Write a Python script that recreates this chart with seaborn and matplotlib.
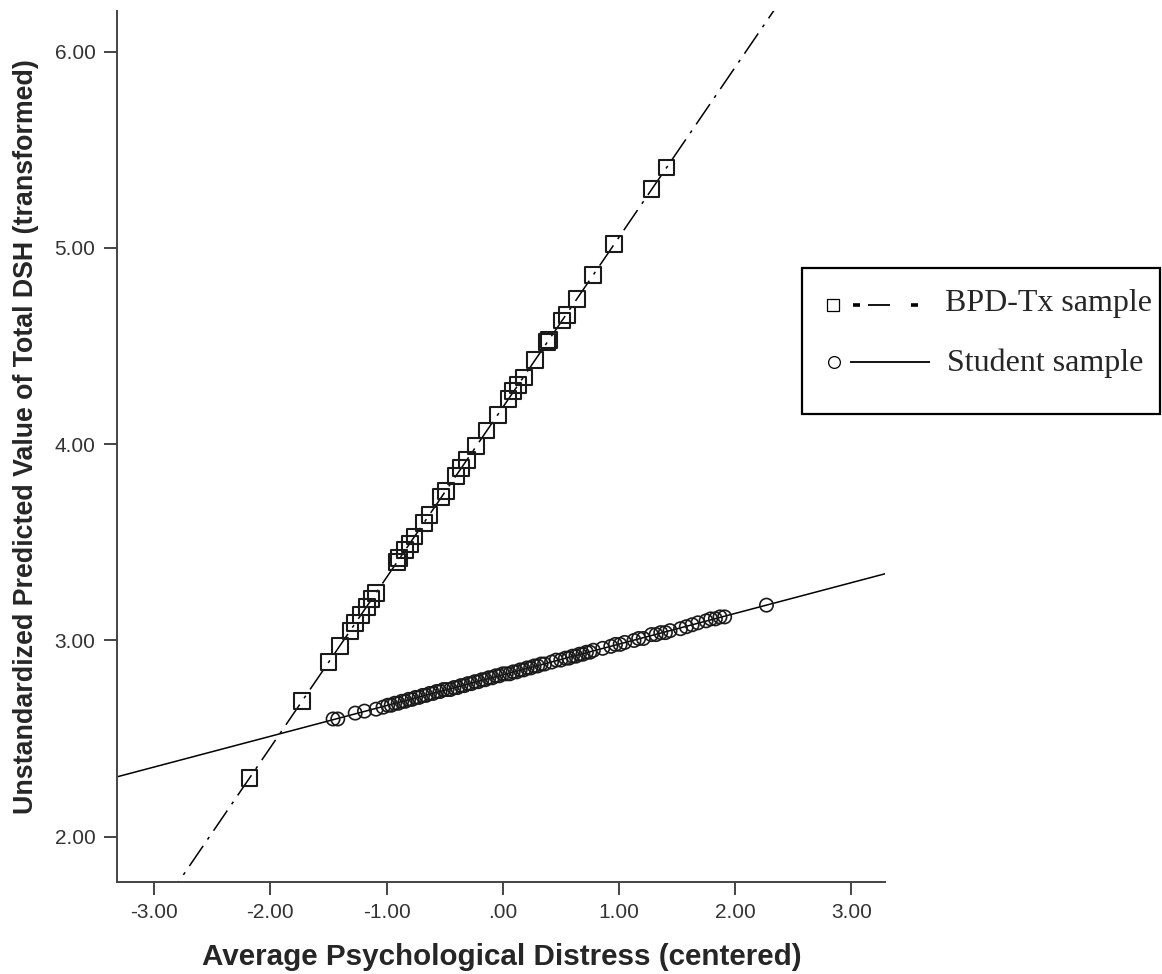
import matplotlib
matplotlib.use("Agg")
import matplotlib.pyplot as plt
from matplotlib.lines import Line2D
from matplotlib.patches import Rectangle
import numpy as np
import pandas as pd
import seaborn as sns

# valores predichos - muestra BPD-Tx
bpd_x = [-2.18, -1.73, -1.50, -1.40, -1.31, -1.27, -1.22, -1.17, -1.13, -1.09,
         -0.91, -0.89, -0.84, -0.80, -0.76, -0.68, -0.63, -0.53, -0.49, -0.40,
         -0.36, -0.31, -0.23, -0.14, -0.04, 0.05, 0.09, 0.13, 0.18, 0.28,
         0.38, 0.40, 0.51, 0.55, 0.64, 0.78, 0.96, 1.28, 1.41]
bpd_y = [2.30, 2.69, 2.89, 2.97, 3.05, 3.09, 3.13, 3.17, 3.21, 3.24,
         3.40, 3.42, 3.46, 3.49, 3.53, 3.60, 3.64, 3.73, 3.76, 3.84,
         3.88, 3.92, 3.99, 4.07, 4.15, 4.23, 4.27, 4.30, 4.34, 4.43,
         4.52, 4.53, 4.63, 4.66, 4.74, 4.86, 5.02, 5.30, 5.41]

# muestra de estudiantes
stu_x = [-1.46, -1.42, -1.27, -1.19, -1.09, -1.03, -0.99, -0.96, -0.93, -0.90,
         -0.87, -0.84, -0.81, -0.78, -0.75, -0.72, -0.69, -0.66, -0.63, -0.60,
         -0.57, -0.54, -0.51, -0.48, -0.45, -0.42, -0.39, -0.36, -0.33, -0.30,
         -0.27, -0.24, -0.21, -0.18, -0.15, -0.12, -0.09, -0.06, -0.03, 0.00,
         0.03, 0.06, 0.09, 0.12, 0.15, 0.18, 0.21, 0.24, 0.27, 0.30,
         0.33, 0.36, 0.42, 0.46, 0.50, 0.54, 0.57, 0.60, 0.63, 0.66,
         0.69, 0.72, 0.75, 0.78, 0.86, 0.93, 0.97, 1.01, 1.05, 1.13,
         1.17, 1.21, 1.28, 1.32, 1.36, 1.40, 1.44, 1.53, 1.58, 1.63,
         1.68, 1.75, 1.79, 1.83, 1.87, 1.91, 2.27]
stu_y = [2.60, 2.60, 2.63, 2.64, 2.65, 2.66, 2.67, 2.67, 2.68, 2.68,
         2.69, 2.69, 2.70, 2.70, 2.71, 2.71, 2.72, 2.72, 2.73, 2.73,
         2.74, 2.74, 2.75, 2.75, 2.75, 2.76, 2.76, 2.77, 2.77, 2.78,
         2.78, 2.79, 2.79, 2.80, 2.80, 2.81, 2.81, 2.82, 2.82, 2.83,
         2.83, 2.83, 2.84, 2.84, 2.85, 2.85, 2.86, 2.86, 2.87, 2.87,
         2.88, 2.88, 2.89, 2.90, 2.90, 2.91, 2.91, 2.92, 2.92, 2.93,
         2.93, 2.94, 2.94, 2.95, 2.96, 2.97, 2.98, 2.98, 2.99, 3.00,
         3.01, 3.01, 3.03, 3.03, 3.04, 3.04, 3.05, 3.06, 3.07, 3.08,
         3.09, 3.10, 3.11, 3.11, 3.12, 3.12, 3.18]

x_ticks = [-3, -2, -1, 0, 1, 2, 3]
x_labels = ["-3.00", "-2.00", "-1.00", ".00", "1.00", "2.00", "3.00"]
y_ticks = [2, 3, 4, 5, 6]
y_labels = ["2.00", "3.00", "4.00", "5.00", "6.00"]

sns.set_style("white")
plt.rcParams['font.family'] = ['Liberation Sans', 'DejaVu Sans']

W, H = 1162, 974
fig = plt.figure(figsize=(W / 100, H / 100), dpi=100)
ax = fig.add_axes([117 / W, 1 - 881.7 / H, (885 - 117) / W, (881.7 - 11) / H])
ax.set_xlim(-3.32, 3.29)
ax.set_ylim(1.771, 6.207)

df_bpd = pd.DataFrame({"x": bpd_x, "y": bpd_y})
df_stu = pd.DataFrame({"x": stu_x, "y": stu_y})

tinta = "#1a1a1a"
sns.regplot(data=df_stu, x="x", y="y", ax=ax, ci=None, truncate=False,
            marker="o",
            scatter_kws=dict(s=92, facecolors="none", edgecolors=tinta,
                             linewidths=1.2, alpha=1, zorder=3),
            line_kws=dict(color="black", lw=1.1, zorder=2))
sns.regplot(data=df_bpd, x="x", y="y", ax=ax, ci=None, truncate=False,
            marker="s",
            scatter_kws=dict(s=130, facecolors="none", edgecolors=tinta,
                             linewidths=1.5, alpha=1, zorder=3),
            line_kws=dict(color="black", lw=1.1, dashes=(16, 5, 2, 5), zorder=2))
ax.set_xlim(-3.32, 3.29)
ax.set_ylim(1.771, 6.207)

ax.set_xticks(x_ticks)
ax.set_xticklabels(x_labels)
ax.set_yticks(y_ticks)
ax.set_yticklabels(y_labels)
ax.tick_params(axis="both", direction="out", length=9.5, width=1.4,
               color="#444444", labelsize=15, labelcolor="#333333", pad=6,
               bottom=True, left=True)

for lado in ["top", "right"]:
    ax.spines[lado].set_visible(False)
for lado in ["left", "bottom"]:
    ax.spines[lado].set_color("#444444")
    ax.spines[lado].set_linewidth(1.4)

ax.set_xlabel("")
ax.set_ylabel("")
fig.text(502 / W, 1 - 957 / H, "Average Psychological Distress (centered)",
         fontsize=21.3, fontweight="bold", ha="center", va="center")
fig.text(26 / W, 1 - 437 / H,
         "Unstandardized Predicted Value of Total DSH (transformed)",
         fontsize=19.3, fontweight="bold", ha="center", va="center",
         rotation=90)


# leyenda dibujada a mano (como en el original)
def fx(px):
    return px / W


def fy(py):
    return 1 - py / H


fig.add_artist(Rectangle((fx(802), fy(414)), fx(1160) - fx(802), fy(268) - fy(414),
                         transform=fig.transFigure, fill=False,
                         edgecolor="black", lw=1.6))
fig.add_artist(Line2D([fx(833)], [fy(305)], marker="s", ms=8.5, mfc="none",
                      mec="black", mew=0.9, transform=fig.transFigure))
fig.add_artist(Line2D([fx(853), fx(860)], [fy(305), fy(305)], color="black",
                      lw=2.6, solid_capstyle="butt", transform=fig.transFigure))
fig.add_artist(Line2D([fx(868), fx(890)], [fy(305), fy(305)], color="black",
                      lw=1.3, solid_capstyle="butt", transform=fig.transFigure))
fig.add_artist(Line2D([fx(911), fx(918)], [fy(305), fy(305)], color="black",
                      lw=2.6, solid_capstyle="butt", transform=fig.transFigure))
fig.add_artist(Line2D([fx(834)], [fy(362)], marker="o", ms=8.5, mfc="none",
                      mec="black", mew=0.9, transform=fig.transFigure))
fig.add_artist(Line2D([fx(850), fx(930)], [fy(362), fy(362)], color="black",
                      lw=1.3, solid_capstyle="butt", transform=fig.transFigure))
fig.text(fx(945), fy(311), "BPD-Tx sample", fontsize=23,
         family=["Liberation Serif", "DejaVu Serif"], va="baseline", ha="left")
fig.text(fx(947), fy(371), "Student sample", fontsize=23,
         family=["Liberation Serif", "DejaVu Serif"], va="baseline", ha="left")

fig.savefig("out.png", dpi=100)
